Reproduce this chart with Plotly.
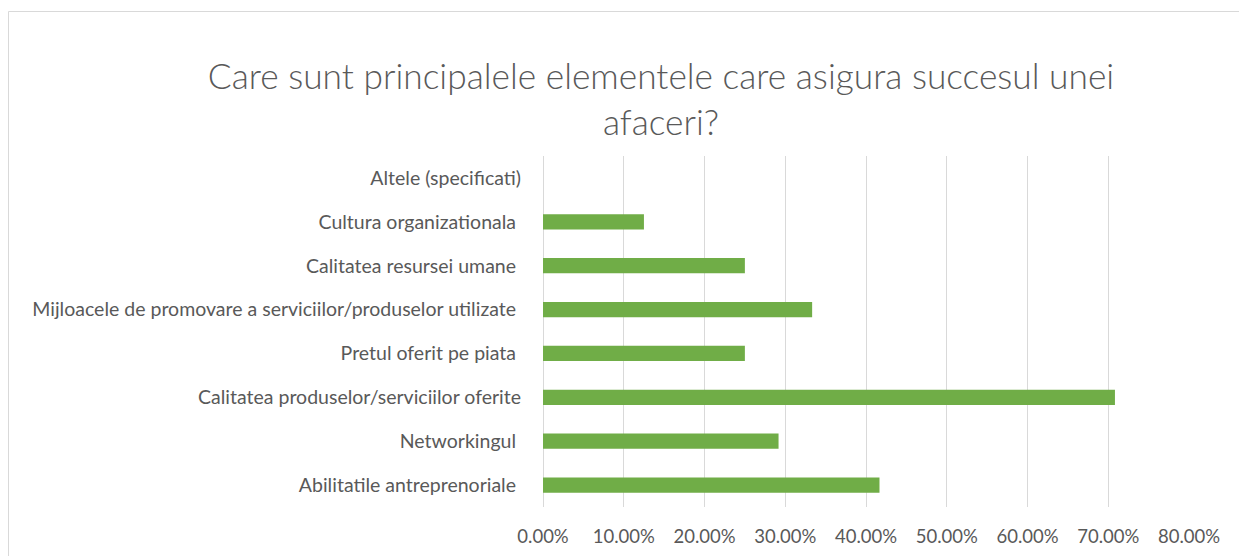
import plotly.graph_objects as go

NB = "\u00a0"
categories = [
    "Abilitatile antreprenoriale" + NB,
    "Networkingul" + NB,
    "Calitatea produselor/serviciilor oferite",
    "Pretul oferit pe piata" + NB,
    "Mijloacele de promovare a serviciilor/produselor utilizate" + NB,
    "Calitatea resursei umane" + NB,
    "Cultura organizationala" + NB,
    "Altele (specificati)",
]
values = [0.4167, 0.2917, 0.7083, 0.25, 0.3333, 0.25, 0.125, 0.0]
tick_values = [0, 0.1, 0.2, 0.3, 0.4, 0.5, 0.6, 0.7, 0.8]

title_text = "Care sunt principalele elementele care asigura succesul unei<br>afaceri?"

# page has an 8px body margin; figure sized to fill the rest
W, H = 1239, 548
L, R, T, B = 535, 58, 148, 49
PW = W - L - R
PH = H - T - B

fig = go.Figure(go.Bar(
    x=values, y=categories, orientation="h",
    marker=dict(color="#70AD47", line=dict(width=0)),
))

fig.update_layout(
    width=W, height=H,
    margin=dict(l=L, r=R, t=T, b=B, autoexpand=False),
    paper_bgcolor="white", plot_bgcolor="white",
    bargap=0.65,
    showlegend=False,
    font=dict(family="Lato", color="#595959", size=16),
    title=dict(
        text=title_text, x=653 / W, xanchor="center", xref="container",
        y=1 - 81 / H, yanchor="middle", yref="container",
        font=dict(family="Lato", size=35.3, color="#595959", weight=300),
    ),
    xaxis=dict(
        range=[0, 0.8], tickvals=tick_values, tickformat=".2%",
        showgrid=True, gridcolor="#D9D9D9", gridwidth=1,
        zeroline=True, zerolinecolor="#D9D9D9", zerolinewidth=1,
        showline=False, ticks="", tickfont=dict(size=18.5, color="#595959"),
        ticklabelstandoff=16, fixedrange=True,
    ),
    yaxis=dict(
        categoryorder="array", categoryarray=categories,
        showgrid=False, zeroline=False, showline=False, ticks="",
        tickfont=dict(size=19.5, color="#595959"),
        ticklabelstandoff=21, fixedrange=True,
    ),
    shapes=[dict(
        type="rect", xref="paper", yref="paper",
        x0=(0.5 - L) / PW, x1=1.3,
        y0=-0.5, y1=(H - B - 3.5) / PH,
        line=dict(color="#D9D9D9", width=1), fillcolor="rgba(0,0,0,0)",
        layer="below",
    )],
)

fig.write_html("out.html", config={"displayModeBar": False})
